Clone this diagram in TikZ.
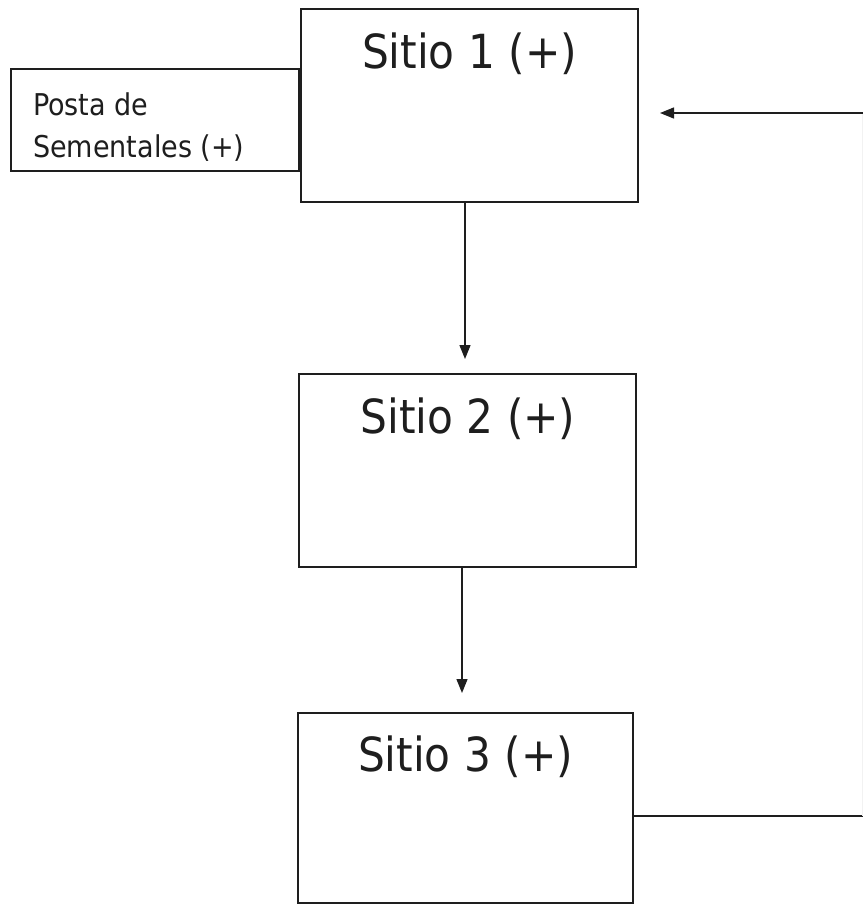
\documentclass[tikz,border=0pt]{standalone}
\usepackage{fontspec}
\setmainfont{DejaVu Sans Condensed}
\usetikzlibrary{arrows.meta}
\definecolor{ink}{HTML}{1E1E1E}
\tikzset{
  box/.style={draw=ink, line width=1.6pt, rectangle, inner sep=0pt, outer sep=0pt},
  big/.style={font=\fontsize{47}{56}\selectfont, text=ink, inner sep=0pt, anchor=base},
  small/.style={font=\fontsize{30}{36}\selectfont, text=ink, inner sep=0pt, anchor=base west},
  arr/.style={draw=ink, line width=1.3pt, -{Triangle[length=14pt,width=11pt]}},
  link/.style={draw=ink, line width=1.5pt}
}
\begin{document}
\begin{tikzpicture}[x=1pt,y=-1pt]
\useasboundingbox[fill=white] (0,0) rectangle (863,906);
% boxes
\node[box, minimum width=337pt, minimum height=193pt] (s1) at (469.5,105.5) {};
\node[box, minimum width=288pt, minimum height=102pt] (p) at (155,120) {};
\node[box, minimum width=337pt, minimum height=193pt] (s2) at (467.5,470.5) {};
\node[box, minimum width=335pt, minimum height=190pt] (s3) at (465.5,808) {};
% texts
\node[big] (t1) at (469.5,68) {Sitio 1 (+)};
\node[big] (t2) at (468,433) {Sitio 2 (+)};
\node[big] (t3) at (465.5,771) {Sitio 3 (+)};
\node[small] (p1) at (33,115) {Posta de};
\node[small] (p2) at (33,157) {Sementales (+)};
% connectors
\coordinate (r1) at (862,113);
\coordinate (r3) at (862,816);
\draw[arr, shorten >=15pt] ([xshift=-4.5pt]s1.south) -- ([xshift=-4.5pt]s1.south |- s2.north);
\draw[arr, shorten >=20pt] ([xshift=-5.5pt]s2.south) -- ([xshift=-5.5pt]s2.south |- s3.north);
\draw[link] (s3.east |- r3) -- ([xshift=1pt]r3);
\draw[draw=ink!6, line width=0.8pt] (r1) -- (r3);
\draw[arr, shorten >=22pt] ([xshift=1pt]r1) -- (s1.east |- r1);
\end{tikzpicture}
\end{document}
